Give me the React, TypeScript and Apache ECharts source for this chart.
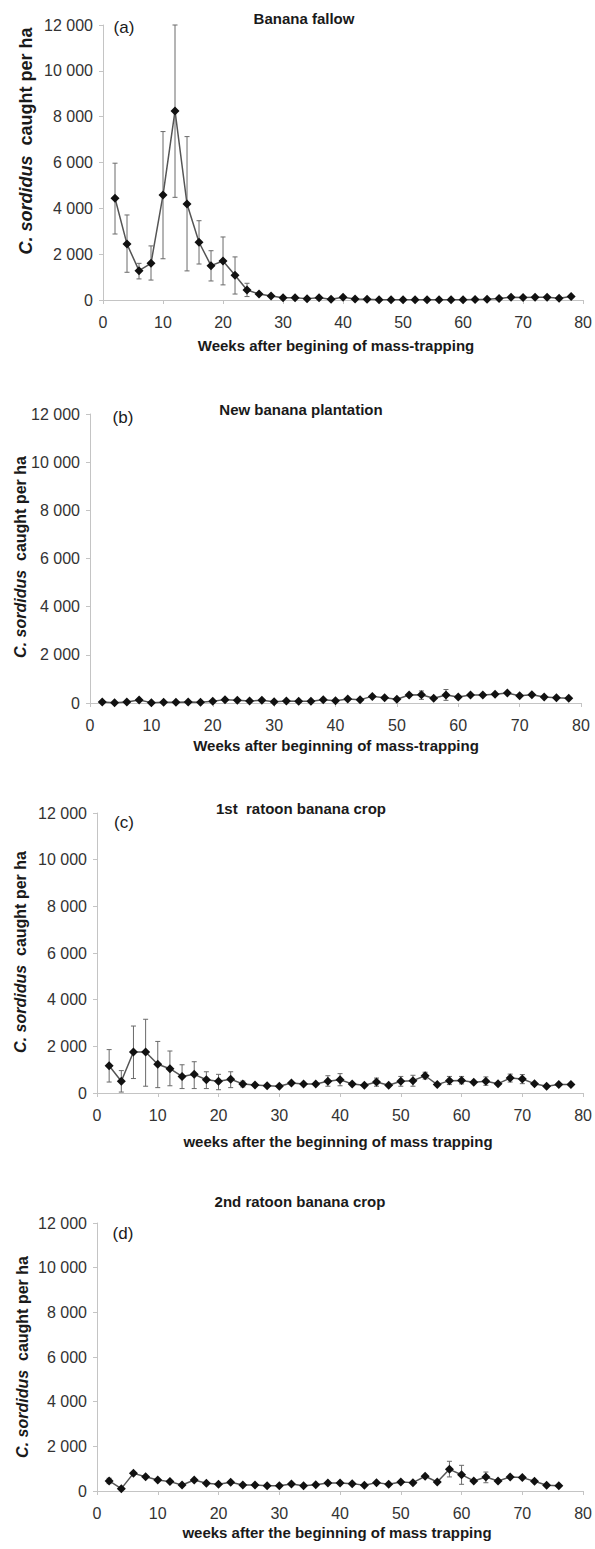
import React, { useEffect, useRef } from "react";
import * as echarts from "echarts";

// ---------- data ----------
const weeksABC = [2, 4, 6, 8, 10, 12, 14, 16, 18, 20, 22, 24, 26, 28, 30, 32, 34, 36, 38, 40, 42, 44, 46, 48, 50, 52, 54, 56, 58, 60, 62, 64, 66, 68, 70, 72, 74, 76, 78];
const weeksD = [2, 4, 6, 8, 10, 12, 14, 16, 18, 20, 22, 24, 26, 28, 30, 32, 34, 36, 38, 40, 42, 44, 46, 48, 50, 52, 54, 56, 58, 60, 62, 64, 66, 68, 70, 72, 74, 76];

const fallowMean = [4440, 2440, 1280, 1600, 4580, 8250, 4190, 2520, 1500, 1700, 1080, 440, 260, 170, 100, 100, 60, 100, 30, 115, 45, 30, 10, 10, 10, 10, 10, 10, 10, 10, 20, 30, 70, 120, 110, 120, 120, 80, 150];
const fallowErrWeeks = [2, 4, 6, 8, 10, 12, 14, 16, 18, 20, 22, 24];
const fallowLow = [2880, 1210, 920, 870, 1800, 4480, 1270, 1570, 830, 660, 260, 150];
const fallowHigh = [5970, 3710, 1600, 2360, 7350, 12000, 7130, 3460, 2150, 2750, 1880, 730];

const newMean = [40, 15, 40, 125, 15, 30, 30, 40, 30, 70, 140, 110, 80, 110, 55, 80, 70, 70, 130, 95, 165, 140, 275, 220, 155, 330, 345, 195, 335, 250, 330, 330, 360, 415, 305, 345, 250, 220, 195];
const newErrWeeks = [54, 58];
const newLow = [150, 110];
const newHigh = [500, 560];

const ratoon1Mean = [1170, 500, 1760, 1760, 1230, 1040, 710, 800, 570, 500, 590, 390, 340, 310, 290, 430, 390, 390, 500, 570, 390, 330, 470, 330, 500, 530, 740, 360, 530, 540, 460, 500, 400, 640, 600, 400, 290, 360, 360];
const ratoon1ErrWeeks = [2, 4, 6, 8, 10, 12, 14, 16, 18, 20, 22, 24, 38, 40, 46, 50, 52, 54, 58, 60, 64, 68, 70];
const ratoon1Low = [470, 40, 620, 290, 230, 310, 190, 190, 190, 140, 230, 260, 290, 310, 290, 290, 290, 600, 360, 390, 330, 470, 400];
const ratoon1High = [1860, 960, 2870, 3160, 2210, 1800, 1210, 1340, 910, 800, 910, 510, 740, 830, 640, 710, 760, 890, 710, 710, 690, 810, 790];

const ratoon2Mean = [450, 105, 790, 640, 490, 420, 270, 490, 345, 300, 390, 270, 270, 240, 240, 315, 240, 285, 360, 360, 330, 255, 375, 300, 405, 375, 660, 405, 970, 730, 450, 630, 450, 630, 600, 435, 255, 240];
const ratoon2ErrWeeks = [2, 58, 60, 64];
const ratoon2Low = [330, 630, 300, 370];
const ratoon2High = [570, 1330, 1150, 850];

const yTicks = ["0", "2 000", "4 000", "6 000", "8 000", "10 000", "12 000"];

// ---------- styling ----------
const FONT = "'Liberation Sans', Arial, Helvetica, sans-serif";
const AXIS_GRAY = "#c4c4c4";

const grids = [
  { left: 103, top: 25, width: 485, height: 275 },
  { left: 90, top: 414, width: 491, height: 289 },
  { left: 97, top: 813, width: 491, height: 280 },
  { left: 97, top: 1223, width: 491, height: 268 },
];

const panels = [
  { weeks: weeksABC, mean: fallowMean, ew: fallowErrWeeks, lo: fallowLow, hi: fallowHigh },
  { weeks: weeksABC, mean: newMean, ew: newErrWeeks, lo: newLow, hi: newHigh },
  { weeks: weeksABC, mean: ratoon1Mean, ew: ratoon1ErrWeeks, lo: ratoon1Low, hi: ratoon1High },
  { weeks: weeksD, mean: ratoon2Mean, ew: ratoon2ErrWeeks, lo: ratoon2Low, hi: ratoon2High },
];

const titles = [
  { x: 304, y: 18, t: "Banana fallow" },
  { x: 301, y: 409, t: "New banana plantation" },
  { x: 301, y: 808, t: "1st  ratoon banana crop" },
  { x: 300, y: 1201, t: "2nd ratoon banana crop" },
];
const letters = [
  { x: 124, y: 27, t: "(a)" },
  { x: 123, y: 417, t: "(b)" },
  { x: 124, y: 822, t: "(c)" },
  { x: 123, y: 1233, t: "(d)" },
];
const yTitles = [
  { x: 26, y: 141, s: 18 },
  { x: 20, y: 557, s: 16 },
  { x: 20, y: 952, s: 16 },
  { x: 22, y: 1357, s: 16 },
];
const xTitles = [
  { x: 336, y: 345, t: "Weeks after begining of mass-trapping" },
  { x: 336, y: 745, t: "Weeks after beginning of mass-trapping" },
  { x: 338, y: 1141, t: "weeks after the beginning of mass trapping" },
  { x: 337, y: 1532, t: "weeks after the beginning of mass trapping" },
];

function errRender(params: any, api: any) {
  const x = api.value(0);
  const p1 = api.coord([x, api.value(1)]);
  const p2 = api.coord([x, api.value(2)]);
  const w = 2.5;
  const st = { stroke: "#6a6a6a", lineWidth: 1 };
  return {
    type: "group",
    children: [
      { type: "line", shape: { x1: p1[0], y1: p1[1], x2: p2[0], y2: p2[1] }, style: st },
      { type: "line", shape: { x1: p1[0] - w, y1: p1[1], x2: p1[0] + w, y2: p1[1] }, style: st },
      { type: "line", shape: { x1: p2[0] - w, y1: p2[1], x2: p2[0] + w, y2: p2[1] }, style: st },
    ],
  };
}

export default function App() {
  const ref = useRef<HTMLDivElement>(null);
  useEffect(() => {
    if (!ref.current) return;
    const chart = echarts.init(ref.current, undefined, { renderer: "svg" });

    const xAxis = grids.map((_, i) => ({
      type: "value",
      gridIndex: i,
      min: 0,
      max: 80,
      interval: 10,
      axisLine: { show: true, lineStyle: { color: AXIS_GRAY, width: 1 } },
      axisTick: { show: true, length: 4, lineStyle: { color: AXIS_GRAY } },
      axisLabel: { fontSize: 16, color: "#333", fontFamily: FONT, margin: 14 },
      splitLine: { show: false },
    }));
    const yAxis = grids.map((_, i) => ({
      type: "value",
      gridIndex: i,
      min: 0,
      max: 12000,
      interval: 2000,
      axisLine: { show: true, lineStyle: { color: AXIS_GRAY, width: 1 } },
      axisTick: { show: true, length: 4, lineStyle: { color: AXIS_GRAY } },
      axisLabel: {
        fontSize: 16,
        color: "#333",
        fontFamily: FONT,
        margin: 10,
        formatter: (v: number) => yTicks[Math.round(v / 2000)],
      },
      splitLine: { show: false },
    }));

    const series: any[] = [];
    panels.forEach((p, i) => {
      series.push({
        type: "custom",
        xAxisIndex: i,
        yAxisIndex: i,
        renderItem: errRender,
        encode: { x: 0, y: [1, 2] },
        data: p.ew.map((w, k) => [w, p.lo[k], p.hi[k]]),
        z: 1,
        silent: true,
      });
      series.push({
        type: "line",
        xAxisIndex: i,
        yAxisIndex: i,
        data: p.weeks.map((w, k) => [w, p.mean[k]]),
        symbol: "diamond",
        symbolSize: [9, 9],
        itemStyle: { color: "#111" },
        lineStyle: { color: "#555", width: 1.5 },
        z: 2,
        silent: true,
      });
    });

    const graphic: any[] = [];
    titles.forEach((t) =>
      graphic.push({
        type: "text",
        x: t.x,
        y: t.y,
        style: { text: t.t, font: `bold 15px ${FONT}`, fill: "#1a1a1a", textAlign: "center", textVerticalAlign: "middle" },
      })
    );
    letters.forEach((t) =>
      graphic.push({
        type: "text",
        x: t.x,
        y: t.y,
        style: { text: t.t, font: `17px ${FONT}`, fill: "#1a1a1a", textAlign: "center", textVerticalAlign: "middle" },
      })
    );
    yTitles.forEach((t) =>
      graphic.push({
        type: "text",
        x: t.x,
        y: t.y,
        rotation: Math.PI / 2,
        style: {
          text: "{i|C. sordidus}{n|  caught per ha}",
          textAlign: "center",
          textVerticalAlign: "middle",
          fill: "#1a1a1a",
          rich: {
            i: { fontStyle: "italic", fontWeight: "bold", fontSize: t.s, fontFamily: FONT, fill: "#1a1a1a" },
            n: { fontWeight: "bold", fontSize: t.s, fontFamily: FONT, fill: "#1a1a1a" },
          },
        },
      })
    );
    xTitles.forEach((t) =>
      graphic.push({
        type: "text",
        x: t.x,
        y: t.y,
        style: { text: t.t, font: `bold 15px ${FONT}`, fill: "#1a1a1a", textAlign: "center", textVerticalAlign: "middle" },
      })
    );

    chart.setOption({
      animation: false,
      backgroundColor: "#ffffff",
      grid: grids.map((g) => ({ ...g, containLabel: false })),
      xAxis,
      yAxis,
      series,
      graphic,
    });
    return () => chart.dispose();
  }, []);
  return (
    <div
      ref={ref}
      style={{ position: "absolute", left: 0, top: 0, width: 595, height: 1549 }}
    />
  );
}
